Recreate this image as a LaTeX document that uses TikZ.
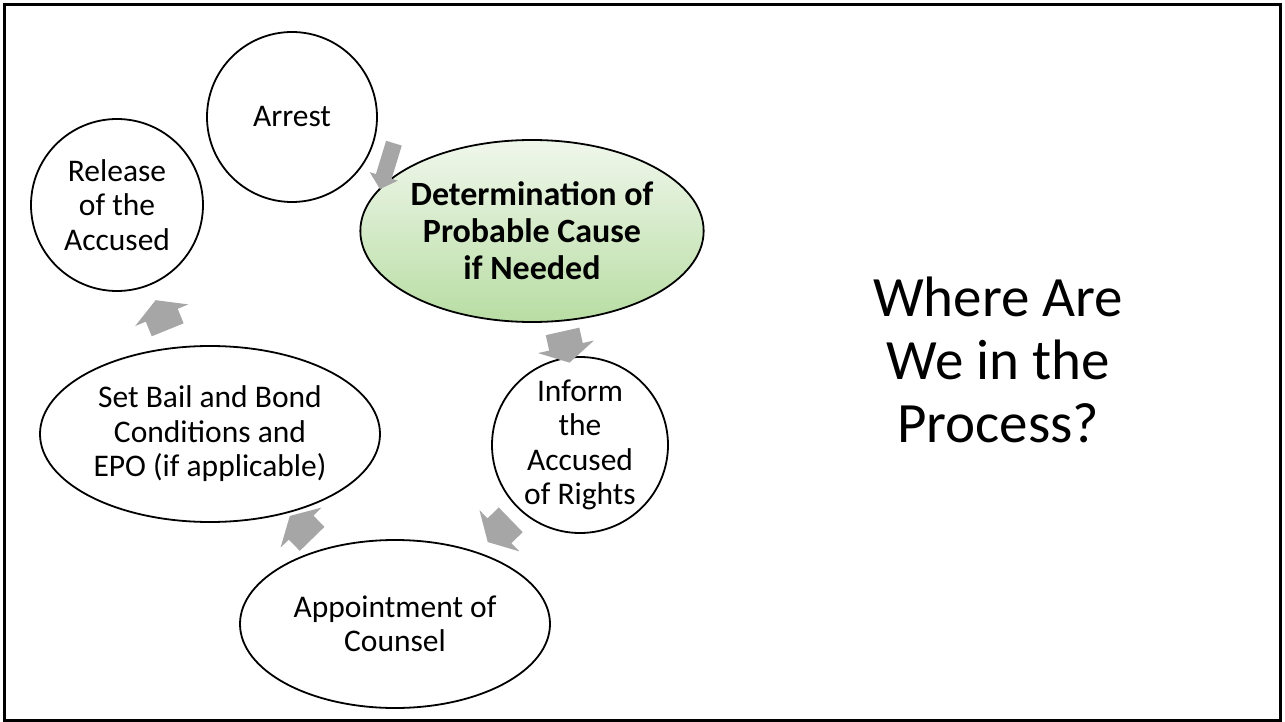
\documentclass[tikz,border=0pt]{standalone}
\usepackage{fontspec}
\setmainfont{Carlito}
\usetikzlibrary{shapes.geometric,shapes.arrows}
\definecolor{arrowgray}{RGB}{166,166,166}
\definecolor{greentop}{RGB}{240,247,236}
\definecolor{greenbot}{RGB}{184,221,163}
\begin{document}
\begin{tikzpicture}[x=1pt,y=-1pt,
  stage/.style={draw=black, line width=1.8pt, fill=white, align=center,
    inner sep=0pt, font=\fontsize{31.5}{34.5}\selectfont},
  round/.style={stage, circle, minimum size=#1},
  oval/.style 2 args={stage, ellipse, minimum width=#1, minimum height=#2},
  arrowbody/.style={single arrow, fill=arrowgray, draw=none,
    inner xsep=0pt, inner ysep=17pt,
    minimum height=32pt, minimum width=57pt, single arrow head extend=11.5pt,
    single arrow tip angle=121, single arrow head indent=0pt},
  cyclearrow/.style={arrowbody, sloped, allow upside down}]

\useasboundingbox (0,0) rectangle (1285,722);
\draw[line width=3pt] (4.5,4.5) rectangle (1280.5,720.2);

% cycle stages
\node[round=170pt] (arrest) at (292,117) {Arrest};
\node[round=172pt] (release) at (117,205) {Release\\of the\\Accused};
\node[oval={332pt}{182pt}, top color=greentop, bottom color=greenbot,
      font=\bfseries\fontsize{34}{37}\selectfont] (determ) at (532,231)
      {Determination of\\Probable Cause\\if Needed};
\node[round=176pt] (inform) at (580,445) {Inform\\the\\Accused\\of Rights};
\node[oval={310pt}{168pt}] (appoint) at (395,624) {Appointment of\\Counsel};
\node[oval={340pt}{176pt}] (setbail) at (210,434)
      {Set Bail and Bond\\Conditions and\\EPO (if applicable)};

% heading
\node[font=\fontsize{57}{63}\selectfont, align=center, inner sep=0pt] (title)
      at (998,360) {Where Are\\We in the\\Process?};

% block arrows between stages
\path (arrest.center) -- (determ.center)
  node[pos=0.4, arrowbody, inner ysep=8pt, minimum height=48pt, minimum width=29pt,
       single arrow head extend=6.5pt, single arrow tip angle=96, rotate=-107] (a1) {};
\path ([xshift=8pt]determ.center) -- ([xshift=8pt]inform.center)
  node[pos=0.52, cyclearrow] (a2) {};
\path ([shift={(6pt,-2pt)}]inform.center) -- ([shift={(6pt,-2pt)}]appoint.center)
  node[pos=0.45, cyclearrow] (a3) {};
\path (appoint.center) -- (setbail.center) node[pos=0.49, cyclearrow] (a4) {};
\path (setbail.center) -- (release.center) node[pos=0.5, cyclearrow] (a5) {};
\end{tikzpicture}
\end{document}
